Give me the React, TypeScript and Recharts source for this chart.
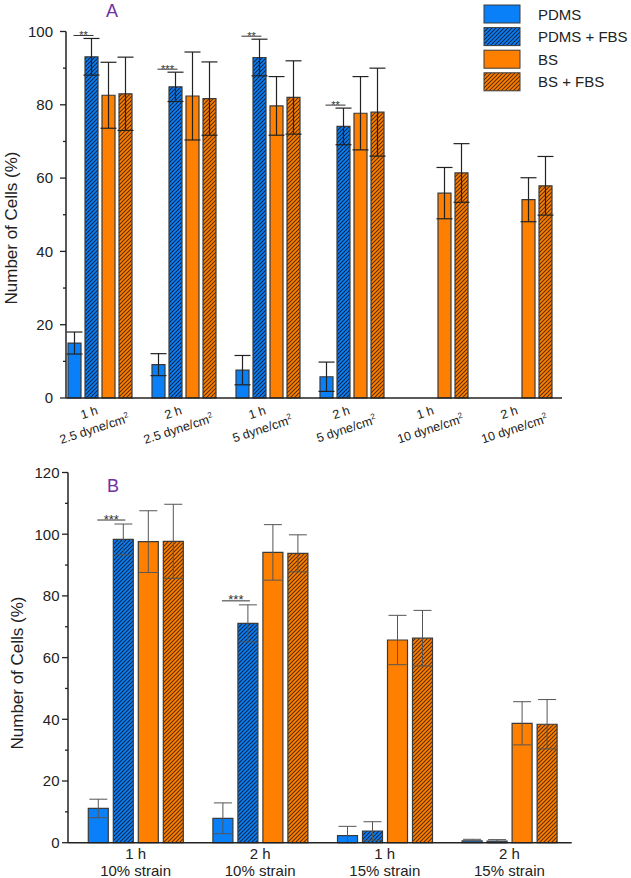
import { Bar, BarChart, ErrorBar, LabelList, XAxis, YAxis } from 'recharts';

// panel A: shear stress
const timesA = ['1 h', '2 h', '1 h', '2 h', '1 h', '2 h'];
const shearA = ['2.5', '2.5', '5', '5', '10', '10'];
const pdmsA = [15, 9.1, 7.6, 5.8, 0, 0];
const pdmsErrA = [3, 3, 4, 4, 2, 2];
const pdmsFbsA = [93.1, 84.9, 92.9, 74.1, 0, 0];
const pdmsFbsErrA = [5, 4, 5, 5, 2, 2];
const bsA = [82.6, 82.4, 79.7, 77.7, 55.9, 54.1];
const bsErrA = [9, 12, 8, 10, 7, 6];
const bsFbsA = [83.0, 81.7, 82.0, 78.0, 61.4, 57.9];
const bsFbsErrA = [10, 10, 10, 12, 8, 8];
const sigA = ['**', '***', '**', '**', '', ''];
const ticksA = [0, 10, 20, 30, 40, 50, 60, 70, 80, 90, 100];

// panel B: strain
const timesB = ['1 h', '2 h', '1 h', '2 h'];
const strainB = ['10% strain', '10% strain', '15% strain', '15% strain'];
const pdmsB = [11.1, 7.9, 2.3, 0.6];
const pdmsErrB = [3, 5, 3, 0.5];
const pdmsFbsB = [98.3, 71.1, 3.8, 0.5];
const pdmsFbsErrB = [5, 6, 3, 0.5];
const bsB = [97.6, 94.1, 65.7, 38.7];
const bsErrB = [10, 9, 8, 7];
const bsFbsB = [97.7, 93.8, 66.3, 38.4];
const bsFbsErrB = [12, 6, 9, 8];
const sigB = ['***', '***', '', ''];
const ticksB = [0, 10, 20, 30, 40, 50, 60, 70, 80, 90, 100, 110, 120];

const legendNames = ['PDMS', 'PDMS + FBS', 'BS', 'BS + FBS'];

const BLUE = '#0a80f8';
const ORANGE = '#ff8000';
const FONT = 'Arial, "Liberation Sans", sans-serif';
const INK = '#222';
const PURPLE = '#7030a0';

// error bars never go below zero
const errPair = (v: number, e: number) => [Math.min(v, e), e];

const buildRows = (keys: string[], lists: number[][], errs: number[][]) =>
    keys.map((k, i) => ({
        cat: k,
        pdms: lists[0][i],
        pdmsErr: errPair(lists[0][i], errs[0][i]),
        pdmsFbs: lists[1][i],
        pdmsFbsErr: errPair(lists[1][i], errs[1][i]),
        bs: lists[2][i],
        bsErr: errPair(lists[2][i], errs[2][i]),
        bsFbs: lists[3][i],
        bsFbsErr: errPair(lists[3][i], errs[3][i]),
    }));

const dataA = buildRows(
    timesA.map((t, i) => `${t}|${shearA[i]}|${i}`),
    [pdmsA, pdmsFbsA, bsA, bsFbsA],
    [pdmsErrA, pdmsFbsErrA, bsErrA, bsFbsErrA]
);
const dataB = buildRows(
    timesB.map((t, i) => `${t}|${strainB[i]}|${i}`),
    [pdmsB, pdmsFbsB, bsB, bsFbsB],
    [pdmsErrB, pdmsFbsErrB, bsErrB, bsFbsErrB]
);

const Hatches = ({ p }: { p: string }) => (
    <defs>
        <pattern id={`${p}-blue`} width={4} height={4} patternUnits="userSpaceOnUse">
            <rect width={4} height={4} fill={BLUE} />
            <path d="M-1,1 l2,-2 M0,4 l4,-4 M3,5 l2,-2" stroke="#0a2345" strokeWidth={1.05} />
        </pattern>
        <pattern id={`${p}-orange`} width={4} height={4} patternUnits="userSpaceOnUse">
            <rect width={4} height={4} fill={ORANGE} />
            <path d="M-1,1 l2,-2 M0,4 l4,-4 M3,5 l2,-2" stroke="#5a2b00" strokeWidth={1.05} />
        </pattern>
    </defs>
);

const YTick = ({ x, y, payload, gap }: any) => {
    const major = payload.value % 20 === 0;
    return (
        <g>
            <line x1={x} x2={x - (major ? 6 : 3)} y1={y} y2={y} stroke={INK} strokeWidth={1.3} />
            {major && (
                <text x={x - gap} y={y + 5.3} textAnchor="end" fontSize={15} fontFamily={FONT} fill={INK}>
                    {payload.value}
                </text>
            )}
        </g>
    );
};

const ShearTick = ({ x, y, payload }: any) => {
    const [time, shear] = String(payload.value).split('|');
    return (
        <g transform={`translate(${x - 12},${y + 9}) rotate(-18)`} fontFamily={FONT} fontSize={12.5} fill={INK}>
            <text x={0} y={8} textAnchor="middle">{time}</text>
            <text x={0} y={25} textAnchor="middle">
                {shear} dyne/cm<tspan dy={-5} fontSize={8}>2</tspan>
            </text>
        </g>
    );
};

const StrainTick = ({ x, y, payload }: any) => {
    const [time, strain] = String(payload.value).split('|');
    return (
        <g fontFamily={FONT} fontSize={15} fill={INK}>
            <text x={x} y={y + 14.5} textAnchor="middle">{time}</text>
            <text x={x} y={y + 31.5} textAnchor="middle">{strain}</text>
        </g>
    );
};

const YTitle = ({ cx, cy }: { cx: number; cy: number }) => (
    <text
        transform={`translate(${cx},${cy}) rotate(-90)`}
        textAnchor="middle"
        fontSize={17}
        fontFamily={FONT}
        fill={INK}
    >
        Number of Cells (%)
    </text>
);

// significance bracket drawn from PDMS to PDMS + FBS, above the error bar
const SigMark = (props: any) => {
    const { value, index, sig, err, gap, fontSize, lift } = props;
    const vb = props.viewBox ?? props;
    const x = props.x ?? vb.x;
    const y = props.y ?? vb.y;
    const width = props.width ?? vb.width;
    const height = props.height ?? vb.height;
    const s = sig[index];
    if (!s || !value) return null;
    const perUnit = height / value;
    const ly = y - err[index] * perUnit - lift;
    const x1 = x - gap - width / 2 - 1;
    const x2 = x + width / 2 + 2;
    return (
        <g>
            <line x1={x1} x2={x2} y1={ly} y2={ly} stroke="#333" strokeWidth={1} />
            <text x={(x1 + x2) / 2} y={ly + 3.5} textAnchor="middle" fontSize={fontSize} fontFamily={FONT} fill="#333">
                {s}
            </text>
        </g>
    );
};

const barLine = { stroke: '#3a3a3a', strokeWidth: 1.2 };

const Series = (p: string, errColor: string, errWidth: number, capW: number, sig: string[], fbsErr: number[], gap: number, sigFont: number, lift: number) => [
    <Bar key="pdms" dataKey="pdms" fill={BLUE} {...barLine} isAnimationActive={false}>
        <ErrorBar dataKey="pdmsErr" direction="y" width={capW} stroke={errColor} strokeWidth={errWidth} />
    </Bar>,
    <Bar key="pdmsFbs" dataKey="pdmsFbs" fill={`url(#${p}-blue)`} {...barLine} isAnimationActive={false}>
        <ErrorBar dataKey="pdmsFbsErr" direction="y" width={capW} stroke={errColor} strokeWidth={errWidth} />
        <LabelList
            dataKey="pdmsFbs"
            content={(lp: any) => (
                <SigMark {...lp} sig={sig} err={fbsErr} gap={gap} fontSize={sigFont} lift={lift} />
            )}
        />
    </Bar>,
    <Bar key="bs" dataKey="bs" fill={ORANGE} {...barLine} isAnimationActive={false}>
        <ErrorBar dataKey="bsErr" direction="y" width={capW} stroke={errColor} strokeWidth={errWidth} />
    </Bar>,
    <Bar key="bsFbs" dataKey="bsFbs" fill={`url(#${p}-orange)`} {...barLine} isAnimationActive={false}>
        <ErrorBar dataKey="bsFbsErr" direction="y" width={capW} stroke={errColor} strokeWidth={errWidth} />
    </Bar>,
];

const legendFills = [BLUE, 'url(#lg-blue)', ORANGE, 'url(#lg-orange)'];

const Overlay = () => (
    <svg width={631} height={878} style={{ position: 'absolute', left: 0, top: 0, pointerEvents: 'none' }}>
        <Hatches p="lg" />
        <text x={112} y={16.5} textAnchor="middle" fontSize={18} fontFamily={FONT} fill={PURPLE}>A</text>
        <text x={113} y={492} textAnchor="middle" fontSize={18} fontFamily={FONT} fill={PURPLE}>B</text>
        {legendNames.map((name, i) => (
            <g key={name}>
                <rect x={484} y={5 + i * 22.6} width={36} height={18} fill={legendFills[i]} stroke="#3a3a3a" strokeWidth={1} />
                <text x={538} y={19.5 + i * 22.6} fontSize={15} fontFamily={FONT} fill={INK}>{name}</text>
            </g>
        ))}
    </svg>
);

export default function App() {
    return (
        <div style={{ position: 'absolute', left: 0, top: 0, width: 631, height: 878, background: '#fff', overflow: 'hidden' }}>
            <div style={{ position: 'absolute', left: 0, top: 0 }}>
                <BarChart
                    width={631}
                    height={450}
                    data={dataA}
                    margin={{ top: 31.5, right: 69, bottom: 12, left: 16 }}
                    barSize={13}
                    barGap={4}
                    style={{ overflow: 'visible' }}
                >
                    <Hatches p="a" />
                    <XAxis
                        dataKey="cat"
                        height={40}
                        interval={0}
                        tickLine={false}
                        tickSize={0}
                        tick={<ShearTick />}
                        padding={{ left: -8, right: 0 }}
                        axisLine={{ stroke: INK, strokeWidth: 1.5 }}
                    />
                    <YAxis
                        width={50}
                        domain={[0, 100]}
                        ticks={ticksA}
                        interval={0}
                        tickLine={false}
                        tickSize={0}
                        tickMargin={0}
                        tick={<YTick gap={13} />}
                        axisLine={{ stroke: INK, strokeWidth: 1.5 }}
                        label={<YTitle cx={16.5} cy={228} />}
                    />
                    {Series('a', '#222', 1.2, 8, sigA, pdmsFbsErrA, 4, 11, 3)}
                </BarChart>
            </div>
            <div style={{ position: 'absolute', left: 0, top: 450 }}>
                <BarChart
                    width={631}
                    height={428}
                    data={dataB}
                    margin={{ top: 22.5, right: 59.3, bottom: 0.3, left: 18 }}
                    barSize={20}
                    barGap={5}
                    style={{ overflow: 'visible' }}
                >
                    <Hatches p="b" />
                    <XAxis
                        dataKey="cat"
                        height={35}
                        interval={0}
                        tickLine={false}
                        tickSize={0}
                        tick={<StrainTick />}
                        padding={{ left: 5.3, right: 0 }}
                        axisLine={{ stroke: INK, strokeWidth: 1.5 }}
                    />
                    <YAxis
                        width={50}
                        domain={[0, 120]}
                        ticks={ticksB}
                        interval={0}
                        tickLine={false}
                        tickSize={0}
                        tickMargin={0}
                        tick={<YTick gap={8.5} />}
                        axisLine={{ stroke: INK, strokeWidth: 1.5 }}
                        label={<YTitle cx={23} cy={223} />}
                    />
                    {Series('b', '#555', 1, 9, sigB, pdmsFbsErrB, 5, 13, 4)}
                </BarChart>
            </div>
            <Overlay />
        </div>
    );
}
